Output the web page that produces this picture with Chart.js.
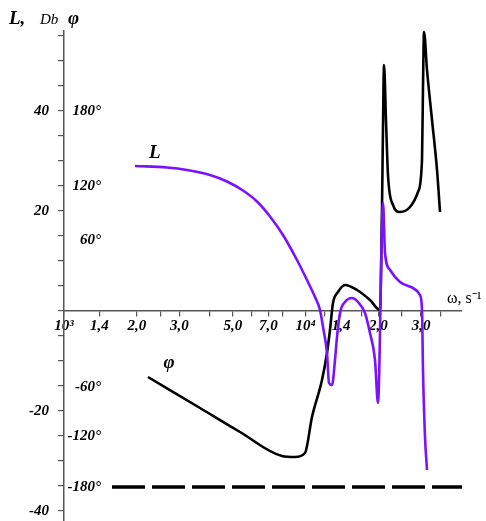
<!DOCTYPE html>
<html>
<head>
<meta charset="utf-8">
<script src="https://cdn.jsdelivr.net/npm/chart.js@4.4.1/dist/chart.umd.min.js"></script>
<style>
    html, body { margin: 0; padding: 0; background: #fff; }
    #wrap { width: 486px; height: 521px; }
</style>
</head>
<body>
<div id="wrap"><canvas id="grafico"></canvas></div>
<script>
// ---------------------
// Dados
// ---------------------
// L (Db) x omega
const lOmega = [1967, 2668, 3228, 4019, 4725, 5503, 6289, 7118, 8055, 9204,
    10125, 10927, 11461, 11792, 12249, 12485, 12847, 13219, 13475, 13866,
    14544, 15544, 16462, 17594, 18450, 19353, 19913, 20885, 21289, 22334,
    24559, 27799, 29711, 30284, 30572, 31162, 31765];
const lDb = [29, 28.7, 28.2, 27.2, 25.9, 24.1, 21.9, 18.9, 15.2, 10.2,
    6.2, 2.8, 0.2, -3.2, -8.4, -14.4, -14.8, -9.8, -5.2, -0.4,
    1.8, 2.6, 1.8, -0.4, -4.4, -9.8, -18.4, 21.6, 11.6, 8.2,
    5.8, 4.6, 3.2, 0.2, -11.8, -25.2, -31.8];

// phi x omega (em unidades do eixo Db)
const phiOmega = [2226, 3653, 5350, 7977, 9031, 9933, 10619, 11680, 12249, 12604,
    12969, 13602, 14544, 16310, 18450, 20298, 20690, 20885, 21086, 21488,
    21902, 22972, 24559, 27010, 29150, 30284, 30572, 30868, 31765, 33315,
    34942, 35955];
const phiDb = [-13.2, -19.4, -24.2, -29, -29.2, -28.4, -21.2, -13.8, -8.4, -3.8,
    1.6, 3.8, 5.2, 4.2, 2.2, 0.2, 20.8, 36.8, 49.2, 38.2,
    27.2, 21.2, 19.8, 20.8, 23.8, 30.2, 44.8, 55.8, 48.2, 38.2,
    28.2, 19.8];

// linha -180°
const linha180Omega = [1580, 44330];
const linha180Db = [-35.2, -35.2];

// Eixos
const xTicks = [1000, 1400, 2000, 2500, 3000, 4000, 5000, 6000, 7000, 8000,
    10000, 12000, 14000, 17000, 20000, 25000, 30000, 36000];
const xLabels = { 1000: '10³', 1400: '1,4', 2000: '2,0', 3000: '3,0', 5000: '5,0',
    7000: '7,0', 10000: '10⁴', 14000: '1,4', 20000: '2,0', 30000: '3,0' };
const yTicks = [55, 50, 45, 40, 35, 30, 25, 20, 15, 10, 5, 0, -5, -10, -15, -20, -25, -30, -35, -40];
const yLabels = [40, 20, -20, -40];
const faseLabels = ['180°', '120°', '60°', '-60°', '-120°', '-180°'];
const faseNiveis = [40, 25, 14.2, -15.2, -25, -35.2];

const ROXO = '#7b12ff';
const FONTE = '"Liberation Serif", "Times New Roman", serif';

const pontos = (xs, ys) => xs.map((v, i) => ({ x: v, y: ys[i] }));

// ---------------------
// Textos extras
// ---------------------
const textos = {
    id: 'textos',
    afterDraw(chart) {
        const { ctx, scales: { x, y } } = chart;
        ctx.save();
        ctx.fillStyle = '#000';

        // graus do lado direito do eixo
        ctx.font = `italic bold 15px ${FONTE}`;
        ctx.textAlign = 'right';
        ctx.textBaseline = 'middle';
        faseLabels.forEach((t, i) => ctx.fillText(t, 101, y.getPixelForValue(faseNiveis[i])));

        // titulo eixo y
        ctx.textAlign = 'left';
        ctx.textBaseline = 'alphabetic';
        ctx.font = `italic bold 19px ${FONTE}`;
        ctx.fillText('L,', 9, 24);
        ctx.font = `italic 15px ${FONTE}`;
        ctx.fillText('Db', 40, 24);
        ctx.font = `italic bold 19px ${FONTE}`;
        ctx.fillText('φ', 68, 24);

        // nomes das curvas
        ctx.fillText('L', x.getPixelForValue(2250), y.getPixelForValue(30.6));
        ctx.fillText('φ', x.getPixelForValue(2580), y.getPixelForValue(-11.4));

        // eixo x
        ctx.font = `16px ${FONTE}`;
        ctx.fillText('ω, s⁻¹', 447, y.getPixelForValue(1.6));
        ctx.restore();
    }
};

// ---------------------
// Grafico
// ---------------------
new Chart(document.getElementById('grafico'), {
    type: 'line',
    data: {
        datasets: [
            {
                data: pontos(lOmega, lDb),
                borderColor: ROXO,
                borderWidth: 2.6,
                cubicInterpolationMode: 'monotone',
                pointRadius: 0,
                clip: false
            },
            {
                data: pontos(phiOmega, phiDb),
                borderColor: '#000',
                borderWidth: 2.6,
                cubicInterpolationMode: 'monotone',
                pointRadius: 0,
                clip: false
            },
            {
                data: pontos(linha180Omega, linha180Db),
                borderColor: '#000',
                borderWidth: 3.5,
                borderDash: [33, 7],
                pointRadius: 0
            }
        ]
    },
    options: {
        responsive: true,
        maintainAspectRatio: false,
        animation: false,
        layout: { padding: { top: 31, right: 24, bottom: 0, left: 0 } },
        plugins: {
            legend: { display: false },
            tooltip: { enabled: false }
        },
        scales: {
            x: {
                type: 'logarithmic',
                position: { y: 0 },
                min: 1000,
                max: 44330,
                afterFit: scale => { scale.height = 0; },
                afterBuildTicks: axis => { axis.ticks = xTicks.map(v => ({ value: v })); },
                grid: { drawOnChartArea: false, drawTicks: true, tickLength: 5, color: '#555', lineWidth: 1.2 },
                border: { color: '#555', width: 1.5 },
                ticks: {
                    autoSkip: false,
                    maxRotation: 0,
                    padding: 1,
                    color: '#000',
                    font: { family: FONTE, size: 15, style: 'italic', weight: 'bold' },
                    callback: v => xLabels[v] || ''
                }
            },
            y: {
                type: 'linear',
                position: 'left',
                min: -42,
                max: 56,
                afterFit: scale => {
                    scale.width = 64;
                    scale.paddingTop = 0;
                    scale.paddingBottom = 0;
                },
                afterBuildTicks: axis => { axis.ticks = yTicks.map(v => ({ value: v })); },
                grid: { drawOnChartArea: false, drawTicks: true, tickLength: 6, color: '#555', lineWidth: 1.2 },
                border: { color: '#555', width: 1.5 },
                ticks: {
                    padding: 9,
                    color: '#000',
                    font: { family: FONTE, size: 15, style: 'italic', weight: 'bold' },
                    callback: v => yLabels.includes(v) ? String(v) : ''
                }
            }
        }
    },
    plugins: [textos]
});
</script>
</body>
</html>
